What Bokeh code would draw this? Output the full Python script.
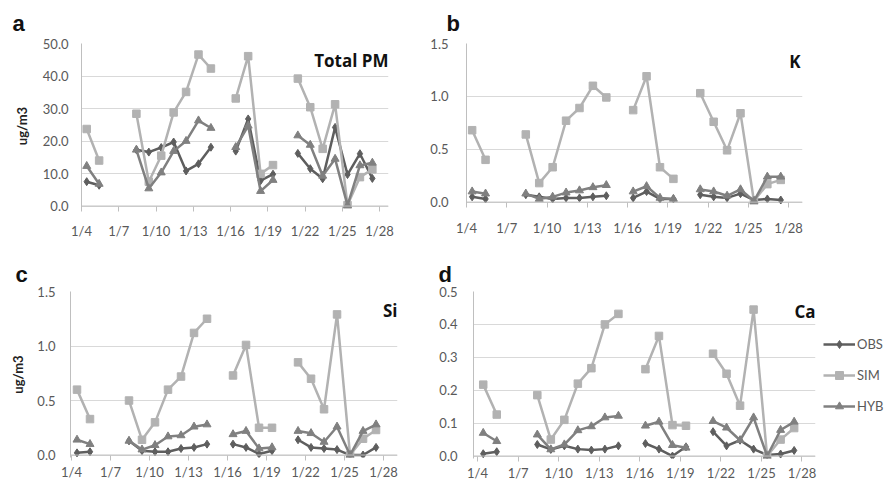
import numpy as np
from bokeh.plotting import figure
from bokeh.models import FixedTicker, PrintfTickFormatter, Label, Legend, LegendItem, Range1d, Span
from bokeh.layouts import column, row
from bokeh.embed import file_html
from bokeh.resources import INLINE

# ---------------- data ----------------
DAYS = [4, 5, 8, 9, 10, 11, 12, 13, 14, 16, 17, 18, 19, 21, 22, 23, 24, 25, 26, 27]
TICK_DAYS = [4, 7, 10, 13, 16, 19, 22, 25, 28]
TICK_LABELS = ["1/4", "1/7", "1/10", "1/13", "1/16", "1/19", "1/22", "1/25", "1/28"]
SERIES = ["OBS", "SIM", "HYB"]

PM_OBS = [7.5, 6.4, 17.3, 16.6, 18.0, 19.7, 10.8, 13.0, 18.1, 16.9, 26.8, 7.8, 9.8, 16.2, 11.5, 8.4, 24.2, 9.7, 16.1, 8.5]
PM_SIM = [23.7, 14.0, 28.4, 7.5, 15.5, 28.8, 35.1, 46.6, 42.3, 33.1, 46.1, 9.9, 12.6, 39.2, 30.4, 17.6, 31.3, 0.3, 8.9, 11.3]
PM_HYB = [12.3, 6.8, 17.3, 5.4, 10.3, 16.9, 20.0, 26.3, 24.0, 18.1, 24.7, 4.6, 8.0, 21.7, 18.8, 9.3, 14.5, 0.2, 12.5, 13.3]
PM_YTICKS = [0, 10, 20, 30, 40, 50]

K_OBS = [0.05, 0.03, 0.07, 0.05, 0.03, 0.04, 0.04, 0.05, 0.06, 0.04, 0.10, 0.03, 0.03, 0.07, 0.05, 0.04, 0.08, 0.02, 0.03, 0.02]
K_SIM = [0.68, 0.40, 0.64, 0.18, 0.33, 0.77, 0.89, 1.10, 0.99, 0.87, 1.19, 0.33, 0.22, 1.03, 0.76, 0.49, 0.84, 0.01, 0.17, 0.21]
K_HYB = [0.10, 0.08, 0.08, 0.03, 0.05, 0.09, 0.11, 0.14, 0.16, 0.10, 0.15, 0.04, 0.03, 0.12, 0.10, 0.06, 0.12, 0.01, 0.24, 0.24]
K_YTICKS = [0, 0.5, 1.0, 1.5]

SI_OBS = [0.02, 0.03, 0.13, 0.04, 0.03, 0.03, 0.06, 0.07, 0.10, 0.10, 0.07, 0.01, 0.04, 0.14, 0.07, 0.06, 0.05, 0.00, 0.00, 0.07]
SI_SIM = [0.60, 0.33, 0.50, 0.14, 0.30, 0.60, 0.72, 1.12, 1.25, 0.73, 1.01, 0.25, 0.25, 0.85, 0.70, 0.42, 1.29, 0.00, 0.15, 0.23]
SI_HYB = [0.14, 0.10, 0.13, 0.05, 0.09, 0.17, 0.18, 0.26, 0.28, 0.19, 0.22, 0.06, 0.07, 0.22, 0.20, 0.12, 0.26, 0.00, 0.22, 0.28]
SI_YTICKS = [0, 0.5, 1.0, 1.5]

CA_OBS = [0.007, 0.013, 0.035, 0.020, 0.031, 0.021, 0.018, 0.021, 0.031, 0.038, 0.021, 0.000, 0.028, 0.074, 0.031, 0.048, 0.021, 0.003, 0.006, 0.017]
CA_SIM = [0.217, 0.126, 0.185, 0.050, 0.110, 0.220, 0.267, 0.400, 0.432, 0.264, 0.365, 0.094, 0.092, 0.311, 0.250, 0.153, 0.445, 0.000, 0.050, 0.085]
CA_HYB = [0.070, 0.045, 0.065, 0.020, 0.035, 0.078, 0.090, 0.117, 0.122, 0.092, 0.104, 0.033, 0.025, 0.106, 0.086, 0.048, 0.117, 0.000, 0.079, 0.104]
CA_YTICKS = [0, 0.1, 0.2, 0.3, 0.4, 0.5]

# ---------------- styling ----------------
DAY_OFFSET = 0.42  # date axis plots each daily value inside its day interval
COLORS = {"OBS": "#5e5e5e", "SIM": "#b2b2b2", "HYB": "#808080"}
MARKERS = {"OBS": "diamond", "SIM": "square", "HYB": "triangle"}
MSIZE = {"OBS": 8, "SIM": 7.5, "HYB": 8}
TICK_FONT = "Lato"
TEXT_GRAY = "#595959"
GRID = "#d9d9d9"
AXIS = "#bfbfbf"

ALL_DAYS = list(range(DAYS[0], DAYS[-1] + 1))


def expand(vals):
    m = dict(zip(DAYS, vals))
    return [m.get(d, np.nan) for d in ALL_DAYS]


def make_panel(letter, name, data, yticks, cfg, ylabel=None):
    ymax = yticks[-1]
    p = figure(frame_width=cfg["fw"], frame_height=cfg["fh"], output_backend="svg",
               toolbar_location=None,
               min_border_left=cfg["bl"], min_border_right=cfg["br"],
               min_border_top=cfg["bt"], min_border_bottom=cfg["bb"],
               x_range=Range1d(cfg["x0"], cfg["x1"]),
               y_range=Range1d(-0.015 * ymax, ymax))
    p.outline_line_color = None
    p.background_fill_color = "white"
    p.border_fill_color = "white"

    # title letter
    p.title.text = letter
    p.title.text_font = "Liberation Sans"
    p.title.text_font_size = "22px"
    p.title.text_font_style = "bold"
    p.title.text_color = "#111111"
    p.title.align = "left"
    p.title.offset = cfg["toff"]
    p.title.standoff = cfg["tstand"]

    # grid
    p.xgrid.grid_line_color = None
    p.ygrid.grid_line_color = GRID
    p.ygrid.grid_line_width = 1

    # x axis (line drawn as a span at y = 0)
    xa = p.xaxis[0]
    xa.ticker = FixedTicker(ticks=TICK_DAYS)
    xa.major_label_overrides = {d: lab for d, lab in zip(TICK_DAYS, TICK_LABELS)}
    xa.axis_line_color = None
    xa.major_tick_line_color = AXIS
    xa.major_tick_out = 3
    xa.major_tick_in = 2
    xa.minor_tick_line_color = None
    xa.major_label_text_font = TICK_FONT
    xa.major_label_text_font_size = "13px"
    xa.major_label_text_color = TEXT_GRAY
    xa.major_label_standoff = cfg["xls"]
    p.add_layout(Span(location=0, dimension="width", line_color=AXIS, line_width=1))

    # y axis
    ya = p.yaxis[0]
    ya.ticker = FixedTicker(ticks=yticks)
    ya.formatter = PrintfTickFormatter(format="%.1f")
    ya.axis_line_color = AXIS
    ya.major_tick_line_color = None
    ya.minor_tick_line_color = None
    ya.major_tick_out = 0
    ya.major_tick_in = 0
    ya.major_label_text_font = TICK_FONT
    ya.major_label_text_font_size = "13px"
    ya.major_label_text_color = TEXT_GRAY
    ya.major_label_standoff = cfg["yls"]
    if ylabel:
        ya.axis_label = ylabel
        ya.axis_label_text_font = TICK_FONT
        ya.axis_label_text_font_size = "13px"
        ya.axis_label_text_font_style = "bold"
        ya.axis_label_text_color = "#222222"
        ya.axis_label_standoff = cfg["als"]

    xs = [d + DAY_OFFSET for d in ALL_DAYS]
    for s in SERIES:
        ys = expand(data[s])
        p.line(xs, ys, line_color=COLORS[s], line_width=2.5)
        p.scatter(xs, ys, marker=MARKERS[s], size=MSIZE[s], fill_color=COLORS[s],
                  line_color=COLORS[s])

    p.add_layout(Label(x=cfg["x1"], y=ymax, text=name, text_align="right",
                       text_baseline="middle", x_offset=cfg["nx"], y_offset=cfg["ny"],
                       text_font="Open Sans", text_font_size="17px", text_font_style="bold",
                       text_color="#111111"))
    return p


def make_legend_fig(fw, fh, bt, bb):
    p = figure(frame_width=fw, frame_height=fh, output_backend="svg", toolbar_location=None,
               min_border_left=0, min_border_right=0, min_border_top=bt, min_border_bottom=bb,
               x_range=Range1d(0, 1), y_range=Range1d(0, 1))
    p.axis.visible = False
    p.grid.visible = False
    p.outline_line_color = None
    items = []
    for s in SERIES:
        # legend samples only: kept outside the visible range
        lr = p.line([-10, -9], [-10, -9], line_color=COLORS[s], line_width=2.5)
        sr = p.scatter([-10], [-10], marker=MARKERS[s], size=MSIZE[s] - 2, fill_color=COLORS[s],
                       line_color=COLORS[s])
        items.append(LegendItem(label=s, renderers=[lr, sr]))
    lg = Legend(items=items, location="center_left", orientation="vertical",
                border_line_alpha=0, background_fill_alpha=0, margin=0, padding=0,
                glyph_width=32, glyph_height=20, label_height=20,
                spacing=11, label_standoff=2, label_text_font=TICK_FONT,
                label_text_font_size="13px", label_text_color=TEXT_GRAY)
    p.add_layout(lg)
    return p


cfg_a = dict(fw=307, fh=165, bl=81, br=32, bt=38, bb=37, x0=4.0, x1=28.72,
             toff=-69, tstand=16, xls=11, yls=13, als=10, nx=0, ny=-17)
cfg_b = dict(fw=336, fh=161, bl=46, br=84, bt=37, bb=42, x0=4.0, x1=29.04,
             toff=-20, tstand=16, xls=12, yls=18, als=0, nx=-2, ny=-18)
cfg_c = dict(fw=327, fh=166, bl=70, br=33, bt=45, bb=25, x0=3.92, x1=29.07,
             toff=-55, tstand=10, xls=3, yls=15, als=8, nx=0, ny=-19)
cfg_d = dict(fw=342, fh=167, bl=43, br=8, bt=45, bb=24, x0=3.7, x1=29.0,
             toff=-35, tstand=10, xls=3, yls=16, als=0, nx=0, ny=-20)

pa = make_panel("a", "Total PM", {"OBS": PM_OBS, "SIM": PM_SIM, "HYB": PM_HYB}, PM_YTICKS, cfg_a, ylabel="ug/m3")
pb = make_panel("b", "K", {"OBS": K_OBS, "SIM": K_SIM, "HYB": K_HYB}, K_YTICKS, cfg_b)
pc = make_panel("c", "Si", {"OBS": SI_OBS, "SIM": SI_SIM, "HYB": SI_HYB}, SI_YTICKS, cfg_c, ylabel="ug/m3")
pd_ = make_panel("d", "Ca", {"OBS": CA_OBS, "SIM": CA_SIM, "HYB": CA_HYB}, CA_YTICKS, cfg_d)
pl = make_legend_fig(63, 167, 45, 24)

layout = column(row(pa, pb), row(pc, pd_, pl))
open("out.html", "w").write(file_html(layout, INLINE))
